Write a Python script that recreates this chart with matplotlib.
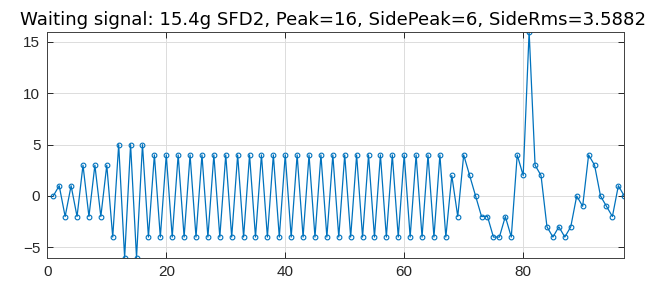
import numpy as np
import matplotlib
matplotlib.use("Agg")
import matplotlib.pyplot as plt

plt.rcParams['font.family'] = ['Liberation Sans', 'DejaVu Sans']

# waiting signal samples (MATLAB style index 1..N)
senal = [0, 1, -2, 1, -2, 3, -2, 3, -2, 3,
         -4, 5, -6, 5, -6, 5, -4,
         4, -4, 4, -4, 4, -4, 4, -4, 4, -4, 4, -4, 4, -4, 4, -4, 4, -4, 4, -4,
         4, -4, 4, -4, 4, -4, 4, -4, 4, -4, 4, -4, 4, -4, 4, -4, 4, -4, 4, -4,
         4, -4, 4, -4, 4, -4, 4, -4, 4, -4,
         2, -2, 4, 2, 0, -2, -2, -4, -4, -2, -4, 4, 2, 16, 3, 2,
         -3, -4, -3, -4, -3, 0, -1, 4, 3, 0, -1, -2, 1, 0]
indice = np.arange(1, len(senal) + 1)

titulo = "Waiting signal: 15.4g SFD2, Peak=16, SidePeak=6, SideRms=3.5882"
xticks = [0, 20, 40, 60, 80]
yticks = [-5, 0, 5, 10, 15]

fig = plt.figure(figsize=(6.56, 2.85), dpi=100)
ax = fig.add_axes([47.3 / 656, 1 - 257.6 / 285, (624.3 - 47.3) / 656, (257.6 - 31.7) / 285])

ax.plot(indice, senal, color='#0072BD', linewidth=0.9, marker='o', markersize=3.4,
        markerfacecolor='none', markeredgewidth=0.8)

ax.set_xlim(0, 97)
ax.set_ylim(-6, 16)
ax.set_xticks(xticks)
ax.set_yticks(yticks)
ax.grid(True, color='#dcdcdc', linewidth=0.7)
ax.set_axisbelow(True)
ax.tick_params(direction='in', top=True, right=True, length=4, width=0.7,
               labelsize=11, colors='#262626', pad=5)
for s in ax.spines.values():
    s.set_color('#404040')
    s.set_linewidth(0.7)

# titulo centrado sobre la figura, un poco mas ancho que el eje
fig.text(333.5 / 656, 1 - 25 / 285, titulo, fontsize=13.05, family='DejaVu Sans',
         color='#000000', ha='center', va='baseline')

fig.savefig("out.png", dpi=100)
